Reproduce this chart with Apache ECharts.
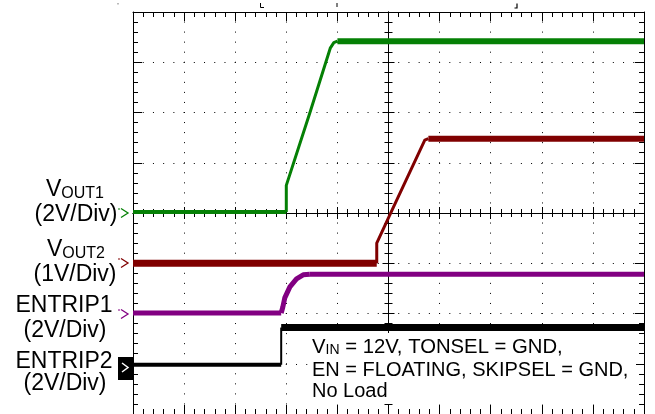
<!DOCTYPE html>
<html>
<head>
<meta charset="utf-8">
<script src="https://cdn.jsdelivr.net/npm/echarts@6/dist/echarts.min.js"></script>
<style>
html,body{margin:0;padding:0;background:#fff}
#chart{width:655px;height:414px}
</style>
</head>
<body>
<div id="chart"></div>
<script>
// scope screen, everything in divisions (10 across, 8 up)
var xDivs = 10
var yDivs = 8

// VOUT1 (green)
var vout1Low  = [[0,4.02],[3.0,4.02]]
var vout1Rise = [[3.0,4.02],[3.0,4.55],[3.46,5.99],[3.86,7.28],[3.93,7.39],[4.0,7.42]]
var vout1High = [[4.0,7.42],[10,7.42]]
// VOUT2 (dark red)
var vout2Low  = [[0,3.0],[4.77,3.0]]
var vout2Rise = [[4.77,3.0],[4.77,3.4],[5.09,4.1],[5.71,5.45],[5.78,5.48]]
var vout2High = [[5.78,5.48],[10,5.48]]
// ENTRIP1 (purple)
var entrip1Low  = [[0,2.01],[2.9,2.01]]
var entrip1Rise = [[2.9,2.01],[2.93,2.12],[2.97,2.31],[3.07,2.53],[3.2,2.69],[3.33,2.77],[3.46,2.78]]
var entrip1High = [[3.46,2.78],[10,2.78]]
// ENTRIP2 (black)
var entrip2Low  = [[0,0.98],[2.9,0.98]]
var entrip2Edge = [[2.9,0.98],[2.9,1.72]]
var entrip2High = [[2.9,1.72],[10,1.72]]

var GREEN = '#058005', RED = '#800000', PURPLE = '#820082', BLACK = '#000'
var FONT = '"Liberation Sans", Arial, sans-serif'

var chart = echarts.init(document.getElementById('chart'))

function trace(data, color, width){
  return {
    type:'line', data:data, symbol:'none', silent:true, animation:false,
    lineStyle:{color:color, width:width, join:'round'}
  }
}

var tickLine = {color:'#000', width:1}
function xAx(position, offset, inside, len, minorLen, split){
  return {
    type:'value', min:0, max:xDivs, interval:1, position:position, offset:offset,
    axisLine:{show:true, onZero:false, lineStyle:tickLine},
    axisTick:{show:true, inside:inside, length:len, lineStyle:tickLine},
    minorTick:{show:true, splitNumber:5, length:minorLen, lineStyle:tickLine},
    axisLabel:{show:false},
    splitLine: split ? {show:true, lineStyle:{color:'#000', width:1, type:[1,9.05], dashOffset:0.5}} : {show:false},
    minorSplitLine:{show:false}
  }
}
function yAx(position, offset, inside, len, minorLen, split){
  return {
    type:'value', min:0, max:yDivs, interval:1, position:position, offset:offset,
    axisLine:{show:true, onZero:false, lineStyle:tickLine},
    axisTick:{show:true, inside:inside, length:len, lineStyle:tickLine},
    minorTick:{show:true, splitNumber:5, length:minorLen, lineStyle:tickLine},
    axisLabel:{show:false},
    splitLine: split ? {show:true, lineStyle:{color:'#000', width:1, type:[1,9.22], dashOffset:0.5}} : {show:false},
    minorSplitLine:{show:false}
  }
}

function label(text, x, y, size){
  return {type:'text', z:5, silent:true,
    style:{text:text, x:x, y:y, fill:'#000', font:size+'px '+FONT, align:'center', verticalAlign:'middle'}}
}
function subLabel(main, sub, x, y){
  return {type:'text', z:5, silent:true,
    style:{text:'{a|'+main+'}{b|'+sub+'}', x:x, y:y, align:'center', verticalAlign:'middle',
      rich:{
        a:{fontSize:23, fontFamily:FONT, fill:'#000', lineHeight:23, verticalAlign:'bottom'},
        b:{fontSize:16, fontFamily:FONT, fill:'#000', lineHeight:18, verticalAlign:'bottom'}
      }}}
}
function arrow(color, y){
  return [
    {type:'polyline', z:5, silent:true, shape:{points:[[121,y-4.5],[128,y],[121,y+4.5]]},
      style:{stroke:color, lineWidth:1.3, fill:null}},
    {type:'line', z:5, silent:true, shape:{x1:118,y1:y-4,x2:120,y2:y-4}, style:{stroke:color, lineWidth:1}}
  ]
}

var graphics = [
  // white panel behind the test conditions
  {type:'rect', z:1, silent:true, shape:{x:310, y:333, width:326, height:71}, style:{fill:'#fff'}},
  subLabel('V','OUT1', 75, 190),
  label('(2V/Div)', 76, 215, 23),
  subLabel('V','OUT2', 76, 250),
  label('(1V/Div)', 75, 274.5, 23),
  label('ENTRIP1', 64, 305.5, 23),
  label('(2V/Div)', 65, 330.5, 23),
  label('ENTRIP2', 64, 361.5, 23),
  label('(2V/Div)', 65, 384, 23),
  {type:'rect', z:5, silent:true, shape:{x:118, y:357, width:15, height:23}, style:{fill:'#000'}},
  {type:'polyline', z:6, silent:true, shape:{points:[[122,363],[128,367.5],[122,372]]}, style:{stroke:'#fff', lineWidth:1.5, fill:null}},
  {type:'text', z:5, silent:true, style:{text:'{a|V}{b|IN}{a| = 12V, TONSEL = GND,}', x:312, y:347, align:'left', verticalAlign:'middle',
    rich:{a:{fontSize:20.3, fontFamily:FONT, fill:'#000', lineHeight:20, verticalAlign:'bottom'},
          b:{fontSize:14, fontFamily:FONT, fill:'#000', lineHeight:15.5, verticalAlign:'bottom'}}}},
  {type:'text', z:5, silent:true, style:{text:'EN = FLOATING, SKIPSEL = GND,', x:312, y:370, fill:'#000', font:'20px '+FONT, align:'left', verticalAlign:'middle'}},
  {type:'text', z:5, silent:true, style:{text:'No Load', x:312, y:391, fill:'#000', font:'20px '+FONT, align:'left', verticalAlign:'middle'}},
  // little scope markers above the screen
  {type:'polyline', z:5, silent:true, shape:{points:[[260.5,3],[260.5,7.5],[264,7.5]]}, style:{stroke:'#000', lineWidth:1, fill:null}},
  {type:'line', z:5, silent:true, shape:{x1:337,y1:3,x2:337,y2:7}, style:{stroke:'#000', lineWidth:1}},
  {type:'polyline', z:5, silent:true, shape:{points:[[517,3.5],[517,8],[514.5,8]]}, style:{stroke:'#000', lineWidth:1.2, fill:null}},
  {type:'rect', z:5, silent:true, shape:{x:117.5, y:3, width:1, height:1.5}, style:{fill:'#777'}}
].concat(arrow(GREEN, 213), arrow(RED, 263), arrow(PURPLE, 314))

chart.setOption({
  animation:false,
  grid:{left:133, right:11, top:12, bottom:0, outerBoundsMode:'none'},
  xAxis:[
    xAx('bottom', 0, true, 9, 5, true),
    xAx('top', 0, true, 9, 5, false),
    xAx('bottom', -201, false, 6, 4, false),
    xAx('bottom', -201, true, 6, 4, false)
  ],
  yAxis:[
    yAx('left', 0, true, 9, 5, true),
    yAx('right', 0, true, 9, 5, false),
    yAx('left', -255.5, false, 6, 4, false),
    yAx('left', -255.5, true, 6, 4, false)
  ],
  series:[
    trace(vout2Low, RED, 7), trace(vout2Rise, RED, 3), trace(vout2High, RED, 6),
    trace(entrip1Low, PURPLE, 5), trace(entrip1Rise, PURPLE, 5), trace(entrip1High, PURPLE, 5),
    trace(entrip2Low, BLACK, 4), trace(entrip2Edge, BLACK, 2), trace(entrip2High, BLACK, 7),
    trace(vout1Low, GREEN, 4), trace(vout1Rise, GREEN, 3), trace(vout1High, GREEN, 6)
  ],
  graphic:graphics
})
</script>
</body>
</html>
